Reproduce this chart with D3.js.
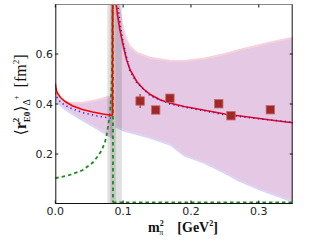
<!DOCTYPE html>
<html><head><meta charset="utf-8">
<script src="https://cdn.jsdelivr.net/npm/d3@7/dist/d3.min.js"></script>
<style>body{margin:0;background:#fff}svg{display:block}</style>
</head><body><svg id="c" width="325" height="245"></svg>
<script>
// ---- data ----
const xTicks = [0.0, 0.1, 0.2, 0.3];
const yTicks = [0.2, 0.4, 0.6];
const threshold = 0.0845;
const greyBandA = [0.0768, 0.0892];
const greyBandB = [0.081, 0.0981];

const redLeft = [[0,0.483],[0.001,0.463],[0.002,0.452],[0.004,0.440],[0.008,0.425],[0.015,0.409],[0.025,0.393],[0.04,0.378],[0.055,0.368],[0.07,0.360],[0.08,0.356],[0.0843,0.354]];
const redVert = [[0.0843,0.354],[0.0843,0.82]];
const redRight = [[0.0890,0.82],[0.0915,0.76],[0.095,0.70],[0.1,0.635],[0.105,0.578],[0.11,0.538],[0.12,0.490],[0.13,0.460],[0.14,0.438],[0.155,0.416],[0.17,0.403],[0.19,0.390],[0.22,0.375],[0.25,0.360],[0.29,0.346],[0.32,0.335],[0.35,0.325]];

const blueLeft = [[0,0.445],[0.003,0.425],[0.008,0.406],[0.02,0.386],[0.04,0.366],[0.06,0.353],[0.08,0.344],[0.0843,0.342]];
const blueRight = [[0.0912,0.82],[0.095,0.73],[0.1,0.645],[0.11,0.532],[0.12,0.486],[0.14,0.433],[0.17,0.399],[0.2,0.383],[0.25,0.357],[0.3,0.341],[0.35,0.327]];

const greenLeft = [[0,0.103],[0.02,0.115],[0.04,0.135],[0.055,0.165],[0.063,0.192],[0.068,0.213],[0.073,0.245],[0.076,0.28],[0.079,0.33],[0.081,0.38],[0.083,0.47],[0.084,0.6],[0.0846,0.82]];
const greenVert = [[0.0850,0.82],[0.0850,0.006]];
const greenRight = [[0.0850,0.006],[0.35,0.006]];

const bandLeftX =     [0,     0.01,  0.02,  0.04,  0.06,  0.08,  0.0845];
const bandLeftUpper = [0.450, 0.415, 0.405, 0.405, 0.415, 0.430, 0.434];
const bandLeftLower = [0.418, 0.390, 0.370, 0.336, 0.305, 0.272, 0.265];
const bandRightX =     [0.089, 0.093, 0.097, 0.1,   0.105, 0.11,  0.12,  0.14,  0.17,  0.19,  0.22,  0.25,  0.27,  0.3,   0.32,  0.35];
const bandRightUpper = [0.85,  0.80,  0.74,  0.70,  0.655, 0.630, 0.605, 0.585, 0.572, 0.572, 0.582, 0.600, 0.615, 0.635, 0.648, 0.665];
const bandRightLower = [0.31,  0.305, 0.30,  0.295, 0.29,  0.287, 0.280, 0.265, 0.237, 0.195, 0.165, 0.125, 0.095, 0.060, 0.040, 0.010];

const ptsX = [0.125, 0.148, 0.169, 0.241, 0.259, 0.317];
const ptsY = [0.412, 0.376, 0.423, 0.401, 0.353, 0.377];
const ptsErr = [0.028, 0.016, 0.012, 0.010, 0.010, 0.010];

// ---- chart ----
const svg = d3.select('#c');
const x = d3.scaleLinear().domain([0, 0.35]).range([55.3, 292.7]);
const y = d3.scaleLinear().domain([0, 0.8]).range([204, 4]);
const L = x(0), R = x(0.35), T = 4.5, B = 203.5;

svg.append('defs').append('clipPath').attr('id','clip')
  .append('rect').attr('x',L).attr('y',T).attr('width',R-L).attr('height',B-T);
const g = svg.append('g').attr('clip-path','url(#clip)');

const line = d3.line().x(d=>x(d[0])).y(d=>y(d[1]));
function band(xs, up, lo){
  return d3.area().x((d,i)=>x(xs[i])).y0((d,i)=>y(lo[i])).y1((d,i)=>y(up[i]))(xs);
}
function edge(xs, vs){ return d3.line().x((d,i)=>x(xs[i])).y((d,i)=>y(vs[i]))(xs); }

[[bandLeftX,bandLeftUpper,bandLeftLower],[bandRightX,bandRightUpper,bandRightLower]].forEach(([xs,u,l])=>{
  g.append('path').attr('d',band(xs,u,l)).attr('fill','#e4c8e4');
  g.append('path').attr('d',edge(xs,u)).attr('fill','none').attr('stroke','#f6d2dc').attr('stroke-width',2.2);
  g.append('path').attr('d',edge(xs,l)).attr('fill','none').attr('stroke','#dcd4f4').attr('stroke-width',2.2);
});

[greyBandA, greyBandB].forEach(b=>{
  g.append('rect').attr('x',x(b[0])).attr('y',T).attr('width',x(b[1])-x(b[0])).attr('height',B-T)
   .attr('fill','#000').attr('fill-opacity',0.12);
});

[greenLeft, greenVert, greenRight].forEach(d=>{
  g.append('path').attr('d',line(d)).attr('fill','none').attr('stroke','#1e8c1e')
   .attr('stroke-width',1.8).attr('stroke-dasharray','3.5,3');
});
[redLeft, redVert, redRight].forEach(d=>{
  g.append('path').attr('d',line(d)).attr('fill','none').attr('stroke','#ff0000').attr('stroke-width',1.6);
});
[blueLeft, blueRight].forEach(d=>{
  g.append('path').attr('d',line(d)).attr('fill','none').attr('stroke','#2020ff')
   .attr('stroke-width',1.6).attr('stroke-dasharray','1.2,3.3');
});

// data points
ptsX.forEach((px,i)=>{
  g.append('line').attr('x1',x(px)).attr('x2',x(px)).attr('y1',y(ptsY[i]-ptsErr[i])).attr('y2',y(ptsY[i]+ptsErr[i]))
   .attr('stroke','#a33030').attr('stroke-width',1.2);
  g.append('rect').attr('x',x(px)-4.2).attr('y',y(ptsY[i])-4.2).attr('width',8.4).attr('height',8.4)
   .attr('fill','#a02828').attr('stroke','#c46a6a').attr('stroke-width',0.8);
});

// frame
const frame = svg.append('g');
frame.append('line').attr('x1',L).attr('x2',R).attr('y1',T).attr('y2',T).attr('stroke','#888').attr('stroke-width',1.2);
frame.append('line').attr('x1',L).attr('x2',R).attr('y1',B).attr('y2',B).attr('stroke','#111');
frame.append('line').attr('x1',L+0.5).attr('x2',L+0.5).attr('y1',T).attr('y2',B).attr('stroke','#111');
frame.append('line').attr('x1',R-0.5).attr('x2',R-0.5).attr('y1',T).attr('y2',B).attr('stroke','#111');

// ticks
xTicks.forEach(t=>{
  frame.append('line').attr('x1',x(t)).attr('x2',x(t)).attr('y1',B).attr('y2',B-3).attr('stroke','#111');
  frame.append('line').attr('x1',x(t)).attr('x2',x(t)).attr('y1',T).attr('y2',T+3).attr('stroke','#111');
  frame.append('text').attr('x',x(t)).attr('y',215).attr('text-anchor','middle')
   .attr('font-family','DejaVu Sans').attr('font-size',11).attr('fill','#222').text(d3.format('.1f')(t));
});
yTicks.forEach(t=>{
  frame.append('line').attr('x1',L).attr('x2',L+3).attr('y1',y(t)).attr('y2',y(t)).attr('stroke','#111');
  frame.append('line').attr('x1',R).attr('x2',R-3).attr('y1',y(t)).attr('y2',y(t)).attr('stroke','#111');
  frame.append('text').attr('x',53).attr('y',y(t)+4).attr('text-anchor','end')
   .attr('font-family','DejaVu Sans').attr('font-size',11).attr('fill','#222').text(d3.format('.1f')(t));
});

// x label
const xl = svg.append('text').attr('x',183).attr('y',232).attr('text-anchor','middle')
  .attr('font-family','Liberation Serif, DejaVu Serif, serif').attr('font-size',14).attr('font-weight','bold').attr('fill','#111');
xl.append('tspan').text('m');
xl.append('tspan').attr('font-size',8).attr('dy',-6).text('2');
xl.append('tspan').attr('font-size',8).attr('font-weight','normal').attr('dx',-4.5).attr('dy',9).text('π');
xl.append('tspan').attr('dy',-3).text('\u2002\u2002[GeV');
xl.append('tspan').attr('font-size',8).attr('dy',-6).text('2');
xl.append('tspan').attr('dy',6).text(']');

// y label
const yl = svg.append('text').attr('transform','translate(26,95) rotate(-90)').attr('text-anchor','middle')
  .attr('font-family','Liberation Serif, DejaVu Serif, serif').attr('font-size',16).attr('fill','#111');
yl.append('tspan').text('⟨');
yl.append('tspan').attr('font-weight','bold').text('r');
yl.append('tspan').attr('font-size',9).attr('font-weight','bold').attr('dy',-7).text('2');
yl.append('tspan').attr('font-size',9).attr('font-weight','bold').attr('dx',-4.5).attr('dy',11).text('E0');
yl.append('tspan').attr('dy',-4).text('⟩');
yl.append('tspan').attr('font-size',10).attr('dy',4).text('Δ');
yl.append('tspan').attr('font-size',8).attr('dx',-1).attr('dy',-11).text('+');
yl.append('tspan').attr('dy',7).text('\u2002[fm');
yl.append('tspan').attr('font-size',9).attr('dy',-7).text('2');
yl.append('tspan').attr('dy',7).text(']');
</script></body></html>
